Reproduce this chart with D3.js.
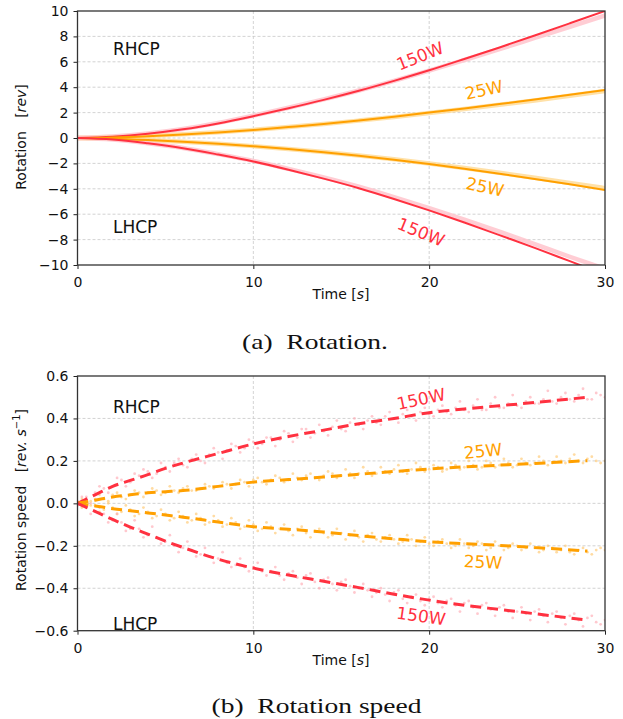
<!DOCTYPE html>
<html>
<head>
<meta charset="utf-8">
<script src="https://cdn.jsdelivr.net/npm/d3@7"></script>
<style>
  body { margin: 0; background: #fff; }
  text { font-family: "DejaVu Sans", sans-serif; white-space: pre; }
  text.cap { font-family: "Liberation Serif", "DejaVu Serif", serif; }
</style>
</head>
<body>
<script>
// ---- data ----
var rotT = [0, 2, 4, 6, 8, 10, 12, 14, 16, 18, 20, 22, 24, 26, 28, 30];
var rot150R = [0, 0.1, 0.33, 0.68, 1.15, 1.72, 2.34, 3.0, 3.72, 4.5, 5.33, 6.22, 7.13, 8.07, 9.03, 10.0];
var rot150Rraw = [0, 0.11, 0.35, 0.71, 1.19, 1.76, 2.38, 3.04, 3.74, 4.5, 5.3, 6.14, 7.0, 7.88, 8.76, 9.65];
var rot25R = [0, 0.04, 0.14, 0.28, 0.44, 0.63, 0.86, 1.1, 1.38, 1.68, 2.0, 2.33, 2.67, 3.03, 3.4, 3.78];
var rot25Rraw = [0, 0.04, 0.15, 0.29, 0.45, 0.64, 0.87, 1.1, 1.37, 1.66, 1.97, 2.29, 2.62, 2.96, 3.32, 3.7];
var rot25L = [0, -0.05, -0.16, -0.3, -0.46, -0.65, -0.87, -1.12, -1.4, -1.71, -2.05, -2.42, -2.81, -3.22, -3.65, -4.1];
var rot25Lraw = [0, -0.05, -0.16, -0.3, -0.46, -0.64, -0.86, -1.1, -1.37, -1.67, -2.0, -2.36, -2.74, -3.13, -3.54, -3.95];
var rot150L = [0, -0.12, -0.42, -0.8, -1.3, -1.85, -2.5, -3.2, -3.95, -4.8, -5.7, -6.65, -7.65, -8.65, -9.7, -10.75];
var rot150Lraw = [0, -0.12, -0.41, -0.78, -1.27, -1.8, -2.43, -3.1, -3.83, -4.65, -5.52, -6.43, -7.38, -8.35, -9.35, -10.3];

var fitT = [0, 1, 2, 3, 4, 5, 6, 8, 10, 12, 14, 16, 18, 20, 22, 24, 26, 29];
var spd150R = [0, 0.04, 0.08, 0.108, 0.135, 0.165, 0.19, 0.235, 0.28, 0.315, 0.345, 0.375, 0.40, 0.427, 0.445, 0.46, 0.475, 0.50];
var spd25R = [0, 0.015, 0.03, 0.04, 0.05, 0.055, 0.06, 0.08, 0.10, 0.112, 0.124, 0.137, 0.15, 0.162, 0.172, 0.18, 0.188, 0.201];
var spd25L = [0, -0.012, -0.025, -0.035, -0.045, -0.055, -0.065, -0.088, -0.11, -0.122, -0.135, -0.152, -0.167, -0.181, -0.19, -0.198, -0.208, -0.225];
var spd150L = [0, -0.038, -0.076, -0.112, -0.145, -0.178, -0.208, -0.263, -0.305, -0.338, -0.367, -0.397, -0.428, -0.456, -0.48, -0.5, -0.52, -0.55];

// measured speed points, every 0.5 s from 0 to 30
var pts150R = [0.01, 0.03, 0.05, 0.07, 0.08, 0.11, 0.10, 0.13, 0.15, 0.14,
               0.17, 0.19, 0.18, 0.21, 0.20, 0.23, 0.24, 0.25, 0.27, 0.26,
               0.29, 0.28, 0.31, 0.30, 0.33, 0.31, 0.35, 0.33, 0.34, 0.36,
               0.35, 0.38, 0.37, 0.39, 0.38, 0.41, 0.40, 0.42, 0.41, 0.43,
               0.42, 0.44, 0.43, 0.45, 0.44, 0.46, 0.44, 0.47, 0.45, 0.47,
               0.46, 0.48, 0.47, 0.49, 0.48, 0.50, 0.49, 0.51, 0.49, 0.52, 0.50];
var pts25R = [0.00, 0.01, 0.02, 0.02, 0.04, 0.03, 0.04, 0.05, 0.05, 0.06,
              0.05, 0.06, 0.07, 0.06, 0.07, 0.08, 0.08, 0.09, 0.09, 0.10,
              0.11, 0.10, 0.11, 0.12, 0.11, 0.12, 0.13, 0.12, 0.13, 0.14,
              0.13, 0.14, 0.14, 0.15, 0.14, 0.15, 0.16, 0.15, 0.16, 0.17,
              0.16, 0.17, 0.16, 0.18, 0.17, 0.18, 0.17, 0.19, 0.18, 0.19,
              0.18, 0.19, 0.19, 0.20, 0.19, 0.20, 0.21, 0.20, 0.21, 0.20, 0.20];
var pts25L = [0.00, -0.01, -0.01, -0.03, -0.02, -0.04, -0.03, -0.05, -0.04, -0.06,
              -0.05, -0.07, -0.06, -0.08, -0.07, -0.09, -0.08, -0.10, -0.09, -0.11,
              -0.10, -0.12, -0.11, -0.12, -0.13, -0.12, -0.14, -0.13, -0.14, -0.15,
              -0.14, -0.15, -0.16, -0.15, -0.17, -0.16, -0.17, -0.18, -0.17, -0.18,
              -0.19, -0.18, -0.19, -0.20, -0.19, -0.20, -0.19, -0.21, -0.20, -0.21,
              -0.20, -0.21, -0.21, -0.22, -0.21, -0.22, -0.23, -0.22, -0.23, -0.22, -0.22];
var pts150L = [-0.01, -0.02, -0.04, -0.05, -0.08, -0.09, -0.12, -0.12, -0.15, -0.16,
               -0.18, -0.20, -0.21, -0.22, -0.24, -0.25, -0.26, -0.28, -0.29, -0.30,
               -0.30, -0.32, -0.32, -0.34, -0.33, -0.35, -0.34, -0.37, -0.36, -0.38,
               -0.37, -0.39, -0.40, -0.41, -0.42, -0.43, -0.42, -0.45, -0.44, -0.46,
               -0.45, -0.47, -0.46, -0.48, -0.47, -0.49, -0.48, -0.50, -0.49, -0.51,
               -0.51, -0.52, -0.51, -0.53, -0.52, -0.54, -0.53, -0.55, -0.54, -0.56, -0.55];
// the in-between samples, t = 0.25, 0.75, ... 29.75
var pts150Rb = [0.03, 0.00, 0.08, 0.05, 0.12, 0.08, 0.14, 0.16, 0.12, 0.19,
                0.15, 0.21, 0.17, 0.23, 0.19, 0.26, 0.21, 0.28, 0.24, 0.30,
                0.26, 0.31, 0.27, 0.34, 0.29, 0.35, 0.31, 0.37, 0.32, 0.39,
                0.34, 0.40, 0.35, 0.41, 0.37, 0.43, 0.38, 0.44, 0.39, 0.45,
                0.41, 0.46, 0.42, 0.48, 0.43, 0.49, 0.44, 0.50, 0.45, 0.51,
                0.45, 0.50, 0.47, 0.53, 0.47, 0.52, 0.48, 0.54, 0.49, 0.51];
var pts25Rb = [0.02, -0.01, 0.04, 0.01, 0.05, 0.02, 0.06, 0.03, 0.07, 0.04,
               0.08, 0.05, 0.08, 0.06, 0.09, 0.07, 0.10, 0.07, 0.11, 0.08,
               0.12, 0.09, 0.13, 0.10, 0.14, 0.11, 0.14, 0.11, 0.15, 0.12,
               0.16, 0.12, 0.17, 0.13, 0.17, 0.14, 0.18, 0.14, 0.19, 0.15,
               0.18, 0.15, 0.19, 0.16, 0.20, 0.16, 0.20, 0.17, 0.21, 0.17,
               0.21, 0.18, 0.22, 0.18, 0.22, 0.19, 0.23, 0.19, 0.22, 0.19];
var pts25Lb = [-0.02, 0.01, -0.04, 0.00, -0.05, -0.01, -0.06, -0.02, -0.07, -0.03,
               -0.08, -0.04, -0.09, -0.05, -0.10, -0.06, -0.11, -0.07, -0.12, -0.08,
               -0.13, -0.09, -0.14, -0.10, -0.15, -0.11, -0.16, -0.12, -0.16, -0.12,
               -0.17, -0.13, -0.18, -0.14, -0.18, -0.15, -0.19, -0.15, -0.20, -0.16,
               -0.20, -0.17, -0.21, -0.17, -0.21, -0.18, -0.22, -0.18, -0.22, -0.19,
               -0.22, -0.19, -0.23, -0.20, -0.23, -0.20, -0.24, -0.21, -0.24, -0.21];
var pts150Lb = [0.01, -0.05, -0.02, -0.09, -0.05, -0.13, -0.08, -0.16, -0.11, -0.19,
                -0.15, -0.23, -0.18, -0.25, -0.21, -0.28, -0.23, -0.30, -0.26, -0.32,
                -0.28, -0.34, -0.30, -0.36, -0.32, -0.38, -0.33, -0.40, -0.35, -0.41,
                -0.36, -0.42, -0.38, -0.44, -0.40, -0.46, -0.41, -0.47, -0.43, -0.48,
                -0.44, -0.49, -0.45, -0.51, -0.46, -0.52, -0.47, -0.53, -0.48, -0.54,
                -0.49, -0.55, -0.50, -0.56, -0.51, -0.57, -0.52, -0.58, -0.53, -0.57];

var xTicks = [0, 10, 20, 30];
var rotTicks = [-10, -8, -6, -4, -2, 0, 2, 4, 6, 8, 10];
var spdTicks = [-0.6, -0.4, -0.2, 0.0, 0.2, 0.4, 0.6];

var RED = "#ff3140", ORANGE = "#ffa000", PINK = "#ffc4cc", LORANGE = "#ffdc99";

var W = 623, H = 719;
var svg = d3.select("body").append("svg").attr("width", W).attr("height", H);

function panel(id, top, bottom, yDomain, yTicks, fmt, ylabelParts, ylabelY, rhcpY, lhcpY) {
  var x = d3.scaleLinear().domain([0, 30]).range([77.5, 605]);
  var y = d3.scaleLinear().domain(yDomain).range([bottom, top]);
  var g = svg.append("g");

  g.append("clipPath").attr("id", id)
    .append("rect").attr("x", 77.5).attr("y", top).attr("width", 527.5).attr("height", bottom - top);

  // grid
  g.selectAll(".gy").data(yTicks.slice(1, -1)).enter().append("line")
    .attr("x1", 77.5).attr("x2", 605).attr("y1", y).attr("y2", y)
    .attr("stroke", "#c8c8c8").attr("stroke-width", 0.8).attr("stroke-dasharray", "3,2");
  g.selectAll(".gx").data(xTicks.slice(1, -1)).enter().append("line")
    .attr("y1", top).attr("y2", bottom).attr("x1", x).attr("x2", x)
    .attr("stroke", "#c8c8c8").attr("stroke-width", 0.8).attr("stroke-dasharray", "3,2");

  var plot = g.append("g").attr("clip-path", "url(#" + id + ")");

  var xAxis = g.append("g").attr("transform", "translate(0," + bottom + ")")
    .call(d3.axisBottom(x).tickValues(xTicks).tickSize(4).tickSizeOuter(0));
  var yAxis = g.append("g").attr("transform", "translate(77.5,0)")
    .call(d3.axisLeft(y).tickValues(yTicks).tickFormat(fmt).tickSize(4).tickPadding(5).tickSizeOuter(0));
  [xAxis, yAxis].forEach(function(a) {
    a.select(".domain").remove();
    a.selectAll("text").attr("font-size", 14).attr("fill", "#111");
    a.selectAll("line").attr("stroke", "#222").attr("stroke-width", 1);
  });
  xAxis.selectAll("text").attr("dy", "1.1em");

  g.append("rect").attr("x", 77.5).attr("y", top).attr("width", 527.5).attr("height", bottom - top)
    .attr("fill", "none").attr("stroke", "#333").attr("stroke-width", 1.3);

  var xl = g.append("text").attr("x", 341).attr("y", bottom + 34).attr("text-anchor", "middle")
    .attr("font-size", 14).attr("fill", "#111");
  xl.append("tspan").text("Time [");
  xl.append("tspan").attr("font-style", "italic").text("s");
  xl.append("tspan").text("]");

  var yl = g.append("text").attr("transform", "translate(26," + ylabelY + ") rotate(-90)")
    .attr("text-anchor", "middle").attr("font-size", 14).attr("fill", "#111");
  ylabelParts.forEach(function(p) {
    var t = yl.append("tspan").text(p.t);
    if (p.i) t.attr("font-style", "italic");
    if (p.sup) t.attr("font-size", 10).attr("dy", -6);
    if (p.down) t.attr("dy", 6);
  });

  g.append("text").attr("x", 113).attr("y", rhcpY).attr("font-size", 17).attr("fill", "#111").text("RHCP");
  g.append("text").attr("x", 113).attr("y", lhcpY).attr("font-size", 17).attr("fill", "#111").text("LHCP");

  return { x: x, y: y, plot: plot };
}

function label(txt, px, py, ang, color) {
  svg.append("text").attr("transform", "translate(" + px + "," + py + ") rotate(" + ang + ")")
    .attr("text-anchor", "middle").attr("dominant-baseline", "central")
    .attr("font-size", 17).attr("fill", color).text(txt);
}

// ---- (a) rotation ----
var pa = panel("ca", 11, 265, [-10, 10], rotTicks, d3.format("d"),
  [{ t: "Rotation   [" }, { t: "rev", i: true }, { t: "]" }], 137, 55, 233);

var lineA = d3.line().curve(d3.curveMonotoneX)
  .x(function(d) { return pa.x(d[0]); })
  .y(function(d) { return pa.y(d[1]); });

var rotSeries = [
  { raw: rot150Rraw, fit: rot150R, c: RED, l: PINK },
  { raw: rot25Rraw, fit: rot25R, c: ORANGE, l: LORANGE },
  { raw: rot25Lraw, fit: rot25L, c: ORANGE, l: LORANGE },
  { raw: rot150Lraw, fit: rot150L, c: RED, l: PINK }
];
rotSeries.forEach(function(s) {
  pa.plot.append("path").attr("d", lineA(d3.zip(rotT, s.raw)))
    .attr("fill", "none").attr("stroke", s.l).attr("stroke-width", 4.5).attr("opacity", 0.85);
});
rotSeries.forEach(function(s) {
  pa.plot.append("path").attr("d", lineA(d3.zip(rotT, s.fit)))
    .attr("fill", "none").attr("stroke", s.c).attr("stroke-width", 2);
});

label("150W", 420, 56, -22, RED);
label("25W", 484, 90, -12, ORANGE);
label("25W", 485, 187, 12, ORANGE);
label("150W", 421, 232, 22, RED);

// ---- (b) rotation speed ----
var pb = panel("cb", 376, 630.7, [-0.6, 0.6], spdTicks, d3.format(".1f"),
  [{ t: "Rotation speed   [" }, { t: "rev. s", i: true }, { t: "\u22121", sup: true }, { t: "]", down: true }], 500, 413, 630);

var lineB = d3.line().curve(d3.curveMonotoneX)
  .x(function(d) { return pb.x(d[0]); })
  .y(function(d) { return pb.y(d[1]); });

var spdSeries = [
  { pts: pts150R, ptsb: pts150Rb, fit: spd150R, c: RED, l: "#ffaab4" },
  { pts: pts25R, ptsb: pts25Rb, fit: spd25R, c: ORANGE, l: "#ffc870" },
  { pts: pts25L, ptsb: pts25Lb, fit: spd25L, c: ORANGE, l: "#ffc870" },
  { pts: pts150L, ptsb: pts150Lb, fit: spd150L, c: RED, l: "#ffaab4" }
];
spdSeries.forEach(function(s) {
  var dots = s.pts.map(function(v, i) { return [i * 0.5, v]; })
    .concat(s.ptsb.map(function(v, i) { return [0.25 + i * 0.5, v]; }));
  pb.plot.append("g").selectAll("circle").data(dots).enter().append("circle")
    .attr("cx", function(d) { return pb.x(d[0]); })
    .attr("cy", function(d) { return pb.y(d[1]); })
    .attr("r", 1.4).attr("fill", s.l).attr("opacity", 0.65);
});
spdSeries.forEach(function(s) {
  pb.plot.append("path").attr("d", lineB(d3.zip(fitT, s.fit)))
    .attr("fill", "none").attr("stroke", s.c).attr("stroke-width", 3)
    .attr("stroke-dasharray", "11,6");
});

label("150W", 421, 399, -12, RED);
label("25W", 483, 451, -6, ORANGE);
label("25W", 483, 562, 3, ORANGE);
label("150W", 421, 616, 8, RED);

// matplotlib style minus sign
svg.selectAll(".tick text").each(function() {
  var t = d3.select(this);
  t.text(t.text().replace("-", "\u2212"));
});

// captions
svg.append("text").attr("class", "cap").attr("x", 315).attr("y", 349).attr("text-anchor", "middle")
  .attr("font-size", 22).attr("fill", "#111")
  .attr("textLength", 146).attr("lengthAdjust", "spacingAndGlyphs")
  .text("(a)  Rotation.");
svg.append("text").attr("class", "cap").attr("x", 316.5).attr("y", 713).attr("text-anchor", "middle")
  .attr("font-size", 22).attr("fill", "#111")
  .attr("textLength", 210).attr("lengthAdjust", "spacingAndGlyphs")
  .text("(b)  Rotation speed");
</script>
</body>
</html>
